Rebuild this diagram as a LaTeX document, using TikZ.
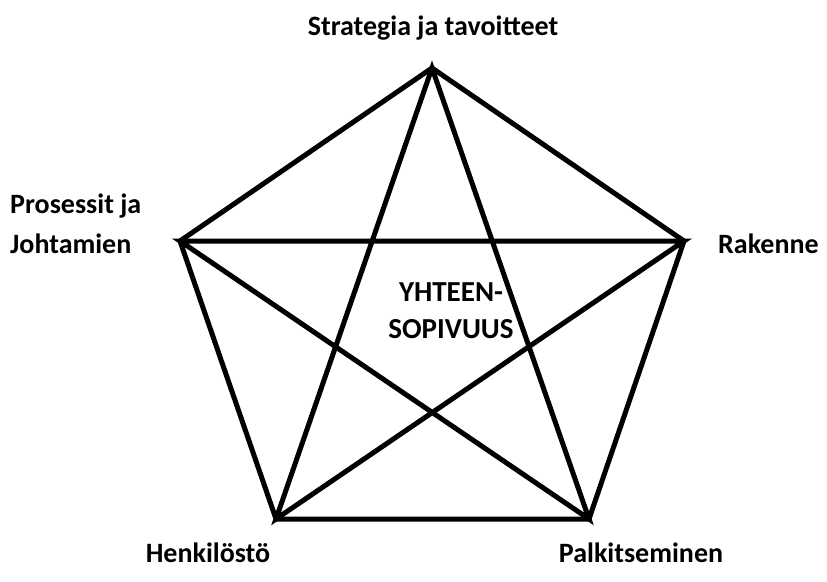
\documentclass[tikz,border=0pt]{standalone}
\usepackage{fontspec}
\setmainfont{Carlito}
\begin{document}
\begin{tikzpicture}[x=1pt,y=-1pt,
  edge/.style={line width=5pt,line join=miter,black},
  lbl/.style={font=\fontsize{28}{40}\selectfont\bfseries,inner sep=0pt}]
\useasboundingbox (0,0) rectangle (827,581);
\coordinate (T) at (432,68);
\coordinate (R) at (684,241);
\coordinate (BR) at (589,519);
\coordinate (BL) at (276,519);
\coordinate (L) at (180,241);
\draw[edge] (T) -- (R) -- (BR) -- (BL) -- (L) -- cycle;
\draw[edge] (T) -- (BL) -- (R) -- (L) -- (BR) -- cycle;
\node[lbl] (st) at (433,28) {Strategia ja tavoitteet};
\node[lbl,align=left,anchor=west] (pj) at (10,224) {Prosessit ja\\Johtamien};
\node[lbl,anchor=west] (rk) at (718,244) {Rakenne};
\node[lbl] (hk) at (208,553) {Henkilöstö};
\node[lbl] (pk) at (641,553) {Palkitseminen};
\node[lbl,align=center,font=\fontsize{29}{37}\selectfont\bfseries] (yh) at (451,311) {YHTEEN-\\SOPIVUUS};
\end{tikzpicture}
\end{document}
